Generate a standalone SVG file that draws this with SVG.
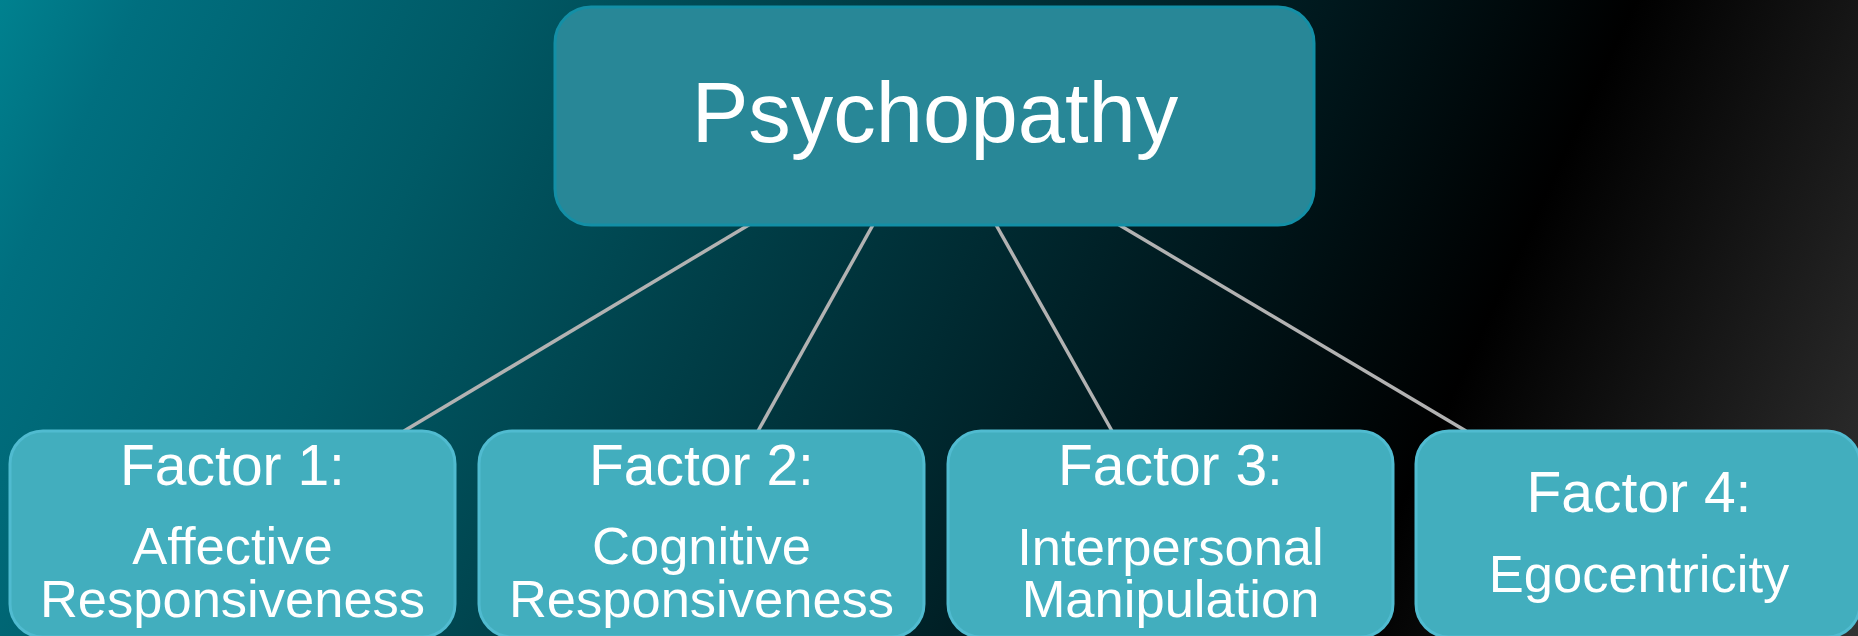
<svg xmlns="http://www.w3.org/2000/svg" width="1858" height="636" viewBox="0 0 1858 636">
  <defs>
    <linearGradient id="bg" gradientUnits="userSpaceOnUse" x1="0" y1="0" x2="1769" y2="824">
      <stop offset="0" stop-color="#00818f"/>
      <stop offset="0.065" stop-color="#006f7f"/>
      <stop offset="0.23" stop-color="#005a66"/>
      <stop offset="0.62" stop-color="#00181d"/>
      <stop offset="0.76" stop-color="#000000"/>
      <stop offset="1" stop-color="#323232"/>
    </linearGradient>
    <style>
      .root { fill: #288797; stroke: #138fa6; stroke-width: 3; }
      .leaf { fill: #42aebe; stroke: #50bbd0; stroke-width: 3; }
      .edge { stroke: #b2b2b2; stroke-width: 3.5; fill: none; }
      text { font-family: "Liberation Sans", Arial, sans-serif; fill: #ffffff; text-anchor: middle; }
      .title { font-size: 85px; }
      .head { font-size: 57px; }
      .body { font-size: 52.5px; }
    </style>
  </defs>

  <rect x="0" y="0" width="1858" height="636" fill="url(#bg)"/>

  <!-- connectors from the root to each factor -->
  <g id="connectors">
    <line class="edge" x1="752" y1="223" x2="404" y2="431"/>
    <line class="edge" x1="874" y1="223" x2="758" y2="431"/>
    <line class="edge" x1="995" y1="223" x2="1112" y2="431"/>
    <line class="edge" x1="1116" y1="223" x2="1466" y2="431"/>
  </g>

  <g id="psychopathy">
    <rect class="root" x="555" y="7" width="759" height="218" rx="36" ry="36"/>
    <text class="title" x="935" y="142">Psychopathy</text>
  </g>

  <g id="factor1">
    <rect class="leaf" x="10" y="431" width="445" height="206" rx="33" ry="33"/>
    <text class="head" x="232.5" y="485">Factor 1:</text>
    <text class="body" x="232.5" y="564">Affective</text>
    <text class="body" x="232.5" y="617">Responsiveness</text>
  </g>

  <g id="factor2">
    <rect class="leaf" x="479" y="431" width="445" height="206" rx="33" ry="33"/>
    <text class="head" x="701.5" y="485">Factor 2:</text>
    <text class="body" x="701.5" y="564">Cognitive</text>
    <text class="body" x="701.5" y="617">Responsiveness</text>
  </g>

  <g id="factor3">
    <rect class="leaf" x="948" y="431" width="445" height="206" rx="33" ry="33"/>
    <text class="head" x="1170.5" y="485">Factor 3:</text>
    <text class="body" x="1170.5" y="565">Interpersonal</text>
    <text class="body" x="1170.5" y="617">Manipulation</text>
  </g>

  <g id="factor4">
    <rect class="leaf" x="1416" y="431" width="444" height="206" rx="33" ry="33"/>
    <text class="head" x="1639" y="512">Factor 4:</text>
    <text class="body" x="1639" y="592">Egocentricity</text>
  </g>
</svg>
